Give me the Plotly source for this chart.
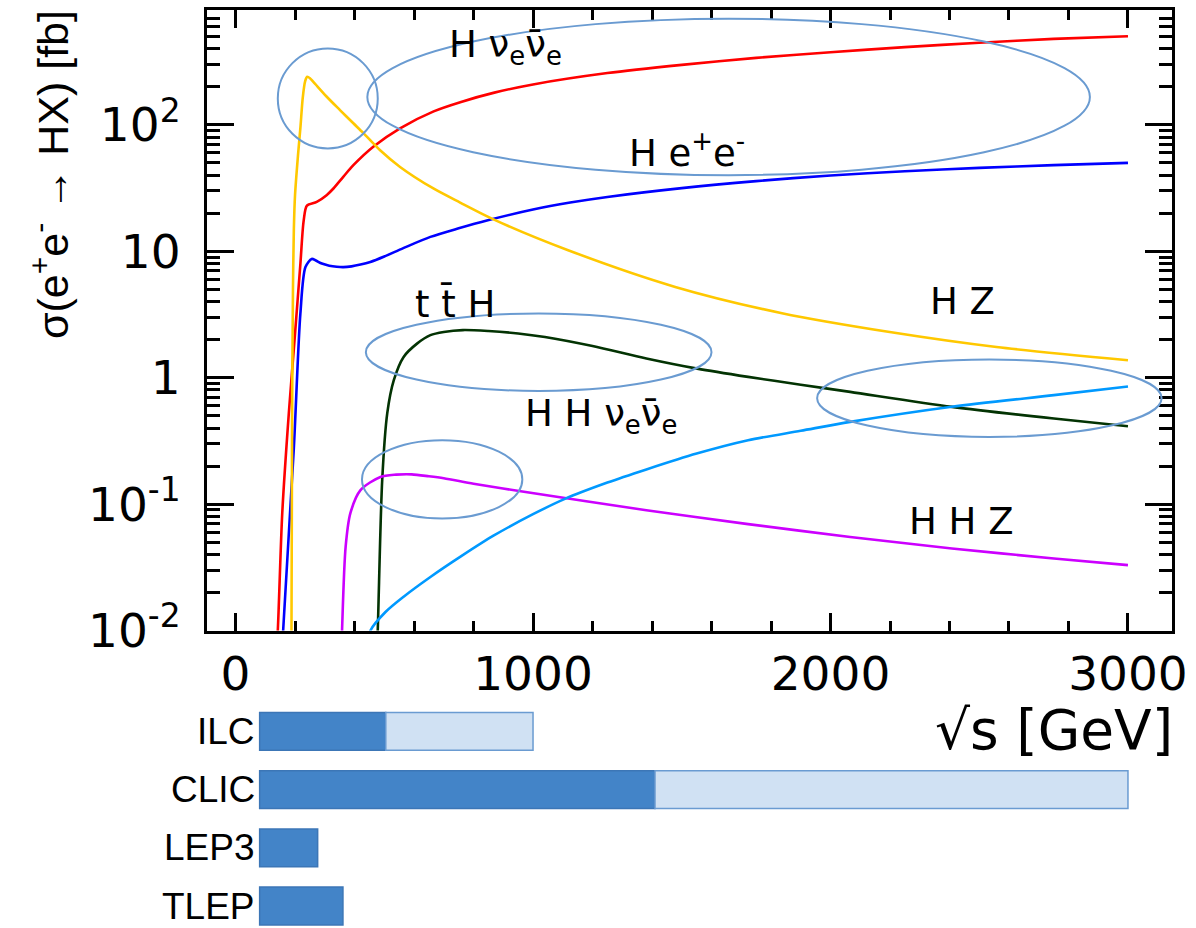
import numpy as np
import plotly.graph_objects as go

# ---------------- data (sqrt(s) in GeV, sigma in fb) ----------------
s_hvv = [132, 142, 157, 179, 201, 218, 229, 240, 273, 306, 329, 362, 396, 464, 553, 666, 758, 870,
         1000, 1250, 1500, 1750, 2000, 2250, 2500, 2750, 3000]
sig_hvv = [0.004, 0.01, 0.085, 0.52, 2.4, 8, 17.5, 23, 24.6, 27.8, 31.4, 38.8, 48, 67.5, 94, 128, 152,
           180, 209, 257, 298.5, 339, 376, 412, 447, 479, 503]

s_hee = [150, 160, 196, 218, 235, 256, 270, 290, 315, 340, 362, 390, 420, 453, 500, 564, 655, 750, 848,
         1000, 1125, 1250, 1500, 1750, 2000, 2250, 2500, 2750, 3000]
sig_hee = [0.003, 0.01, 0.28, 3.24, 7.5, 8.7, 8.45, 8.0, 7.7, 7.55, 7.5, 7.6, 7.85, 8.24, 9.1, 10.6, 13, 15.2,
           17.6, 21.4, 24.3, 26.9, 31.6, 35.9, 39.8, 43, 45.7, 48.1, 50.1]

s_hz = [186, 188, 190, 193, 196, 200, 210, 218, 226, 234, 241, 250, 261.5, 306.6, 351, 396, 430, 486, 553,
        665, 755, 867, 1118, 1478, 1837, 2199, 2558, 3000]
sig_hz = [0.004, 0.01, 0.5, 5, 15, 28, 58, 95, 165, 222, 240, 234, 219, 167, 131, 103, 86, 63, 46.5,
          31.4, 24.3, 17.9, 10.2, 5.23, 3.24, 2.30, 1.75, 1.375]

s_tth = [470, 478, 493, 510, 532, 565, 610, 655, 700, 764, 850, 950, 1040, 1200, 1381, 1552, 1723, 1900,
         2066, 2408, 2751, 3000]
sig_tth = [0.003, 0.01, 0.155, 0.524, 0.955, 1.46, 1.86, 2.17, 2.3, 2.38, 2.34, 2.24, 2.10, 1.78, 1.42, 1.18,
           1.015, 0.88, 0.772, 0.588, 0.475, 0.413]

s_hhz = [352, 358, 370, 386, 420, 487, 540, 592, 650, 700, 800, 953, 1381, 1723, 2066, 2408, 2751, 3000]
sig_hhz = [0.003, 0.01, 0.0458, 0.0847, 0.129, 0.164, 0.171, 0.172, 0.166, 0.16, 0.145, 0.127, 0.0895, 0.0694,
           0.055, 0.0446, 0.0371, 0.0329]

s_hhvv = [440, 453.5, 504, 565, 655, 760, 867, 1000, 1107, 1250, 1381, 1550, 1723, 1900, 2066, 2408, 2751, 3000]
sig_hhvv = [0.007, 0.01, 0.014, 0.0185, 0.0265, 0.0389, 0.0562, 0.0832, 0.11, 0.148, 0.188, 0.251, 0.32,
            0.38, 0.447, 0.589, 0.728, 0.851]

x_major_ticks = [0, 1000, 2000, 3000]
y_major_ticks = [0.01, 0.1, 1, 10, 100]
y_tick_text = ["10<sup>-2</sup>", "10<sup>-1</sup>", "1", "10", "10<sup>2</sup>"]

# collider reach (GeV)
colliders = ["ILC", "CLIC", "LEP3", "TLEP"]
collider_start = [81, 81, 81, 81]
stage1_end = [505, 1410, 276, 361]
stage2_end = [1000, 3000, None, None]

# ---------------- styling ----------------
W, H = 1196, 928
def px_x(p):
    return p / W
def px_y(p):
    return 1 - p / H

TICK_FONT = dict(family="DejaVu Sans", size=47, color="black")
LABEL_FONT = dict(family="DejaVu Sans", size=37, color="black")
ELL = "#6A9BD1"

fig = go.Figure()

curves = [
    (s_hvv, sig_hvv, "#FF0000", "H νν"),
    (s_hee, sig_hee, "#0000FF", "H ee"),
    (s_hz, sig_hz, "#FFC800", "HZ"),
    (s_tth, sig_tth, "#033303", "ttH"),
    (s_hhz, sig_hhz, "#CC00FF", "HHZ"),
    (s_hhvv, sig_hhvv, "#0099FF", "HHνν"),
]
for xs, ys, col, nm in curves:
    fig.add_trace(go.Scatter(x=xs, y=ys, mode="lines", name=nm,
                             line=dict(color=col, width=2.6, shape="spline", smoothing=0.8),
                             xaxis="x", yaxis="y", hoverinfo="skip"))

# collider bars
rows = [len(colliders) - 1 - i for i in range(len(colliders))]
fig.add_trace(go.Bar(orientation="h", y=rows, base=collider_start,
                     x=[e - s for s, e in zip(collider_start, stage1_end)],
                     width=0.65, marker=dict(color="#4384C8", line=dict(color="#3C76B6", width=1.5)),
                     xaxis="x2", yaxis="y2", hoverinfo="skip"))
l_rows = [r for r, e in zip(rows, stage2_end) if e is not None]
l_base = [s for s, e in zip(stage1_end, stage2_end) if e is not None]
l_len = [e - s for s, e in zip(stage1_end, stage2_end) if e is not None]
fig.add_trace(go.Bar(orientation="h", y=l_rows, base=l_base, x=l_len,
                     width=0.65, marker=dict(color="#D0E1F3", line=dict(color="#6A9BD1", width=1.5)),
                     xaxis="x2", yaxis="y2", hoverinfo="skip"))

annotations = []
for name, r, s in zip(colliders, rows, collider_start):
    annotations.append(dict(x=s, y=r, xref="x2", yref="y2", text=name, showarrow=False,
                            xanchor="right", yanchor="middle", xshift=-3,
                            font=dict(family="Liberation Sans", size=37, color="black")))

# process labels (y given as log10 for log axis)
labels = [
    ("H ν<sub>e</sub>ν̄<sub>e</sub>", 909, 2.615),
    ("H e<sup>+</sup>e<sup>-</sup>", 1517, 1.80),
    ("t t̄ H", 736, 0.581),
    ("H H ν<sub>e</sub>ν̄<sub>e</sub>", 1229, -0.305),
    ("H Z", 2444, 0.605),
    ("H H Z", 2441, -1.141),
]
for t, x, ly in labels:
    annotations.append(dict(x=x, y=ly, xref="x", yref="y", text=t, showarrow=False,
                            xanchor="center", yanchor="middle", font=LABEL_FONT))

# axis titles
annotations.append(dict(x=px_x(50), y=px_y(175), xref="paper", yref="paper",
                        text="σ(e<sup>+</sup>e<sup>-</sup> → HX) [fb]", textangle=-90, showarrow=False,
                        xanchor="center", yanchor="middle",
                        font=dict(family="Liberation Sans", size=43, color="black")))
annotations.append(dict(x=px_x(1175), y=px_y(730), xref="paper", yref="paper",
                        text="√s [GeV]", showarrow=False, xanchor="right", yanchor="middle",
                        font=dict(family="DejaVu Sans", size=55, color="black")))

# ellipses (data coordinates)
ellipses = [
    (142, 478, 65.1, 402),
    (443, 2872, 40, 693),
    (438, 1600, 0.786, 3.22),
    (1955, 3113, 0.340, 1.393),
    (425, 964, 0.0769, 0.320),
]
shapes = [dict(type="circle", xref="x", yref="y", x0=a, x1=b, y0=c, y1=d,
               line=dict(color=ELL, width=2)) for a, b, c, d in ellipses]

fig.update_layout(
    width=W, height=H, autosize=False,
    margin=dict(l=0, r=0, t=0, b=0, pad=0, autoexpand=False),
    paper_bgcolor="white", plot_bgcolor="white", showlegend=False,
    barmode="overlay",
    xaxis=dict(domain=[px_x(207), px_x(1172)], range=[-96, 3148], anchor="y", automargin=False,
               showline=True, linecolor="black", linewidth=3, mirror="allticks",
               ticks="inside", ticklen=18, tickwidth=2.5, tickcolor="black",
               tickmode="array", tickvals=x_major_ticks, tickfont=TICK_FONT,
               ticklabelstandoff=0, showgrid=False, zeroline=False,
               minor=dict(ticks="inside", dtick=200, tick0=0, ticklen=10, tickwidth=2.5,
                          tickcolor="black", showgrid=False)),
    yaxis=dict(domain=[px_y(630.5), px_y(10)], type="log", range=[-2, 2.909], anchor="x", automargin=False,
               showline=True, linecolor="black", linewidth=3, mirror="allticks",
               ticks="inside", ticklen=27, tickwidth=2.5, tickcolor="black",
               tickmode="array", tickvals=y_major_ticks, ticktext=y_tick_text, tickfont=TICK_FONT,
               ticklabelstandoff=14, showgrid=False, zeroline=False,
               minor=dict(ticks="inside", dtick="D1", ticklen=13, tickwidth=2.5,
                          tickcolor="black", showgrid=False)),
    xaxis2=dict(domain=[px_x(207), px_x(1172)], range=[-96, 3148], anchor="y2", visible=False,
                automargin=False),
    yaxis2=dict(domain=[0, px_y(700)], range=[-0.378, 3.54], anchor="x2", visible=False,
                automargin=False),
    annotations=annotations, shapes=shapes,
)

fig.write_html("out.html")
